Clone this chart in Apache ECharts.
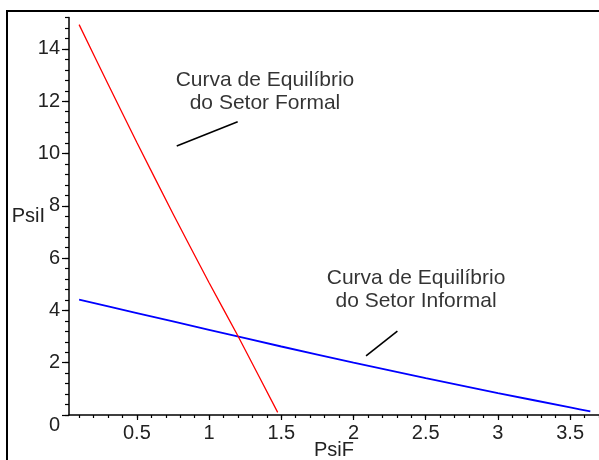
<!DOCTYPE html>
<html>
<head>
<meta charset="utf-8">
<script src="https://cdn.jsdelivr.net/npm/echarts@6/dist/echarts.min.js"></script>
<style>
html,body{margin:0;padding:0;background:#fff;}
#c{width:599px;height:460px;}
</style>
</head>
<body>
<div id="c"></div>
<script>
// ---- data ----
const formalX = [0.1, 0.3, 0.5, 0.75, 1.0, 1.2, 1.475];
const formalY = [14.93, 12.66, 10.42, 7.7, 5.06, 3.02, 0.1];
const informalX = [0.1, 0.5, 1.0, 1.5, 2.0, 2.5, 3.0, 3.5, 3.64];
const informalY = [4.41, 3.90, 3.26, 2.62, 2.00, 1.41, 0.84, 0.29, 0.14];

const xTickLabels = [0.5, 1, 1.5, 2, 2.5, 3, 3.5];
const yTickLabels = [0, 2, 4, 6, 8, 10, 12, 14];
const xAxisName = 'PsiF';
const yAxisName = 'PsiI';

const annotationText = ['Curva de Equilíbrio\ndo Setor Formal', 'Curva de Equilíbrio\ndo Setor Informal'];
const annotationX = [1.387, 2.433];
const annotationY = [12.36, 4.79];
const pointerFrom = [[0.776, 10.29], [2.087, 2.257]];
const pointerTo = [[1.198, 11.22], [2.304, 3.21]];

// minor tick positions
const xMinorTicks = [];
for (let i = 1; i <= 37; i++) xMinorTicks.push(+(i * 0.1).toFixed(2));
const yMinorTicks = [];
for (let i = 0; i <= 38; i++) yMinorTicks.push(+(i * 0.4).toFixed(2));

const FONT = "'Liberation Sans', Arial, sans-serif";

const chart = echarts.init(document.getElementById('c'), null, {renderer: 'canvas'});

chart.setOption({
  animation: false,
  backgroundColor: '#fff',
  grid: {left: 69, top: 17.6, right: 0, bottom: 45, containLabel: false, outerBoundsMode: 'none'},
  graphic: [{
    type: 'rect',
    shape: {x: 7, y: 11, width: 700, height: 600},
    style: {fill: 'none', stroke: '#000', lineWidth: 2},
    z: 100
  }],
  xAxis: [{
    type: 'value', min: 0.03, max: 3.7,
    position: 'bottom',
    name: xAxisName, nameLocation: 'middle', nameGap: 25, nameMoveOverlap: false,
    nameTextStyle: {fontFamily: FONT, fontSize: 20, color: '#222', verticalAlign: 'top'},
    axisLine: {show: true, onZero: false, lineStyle: {color: '#000', width: 1.5}},
    axisTick: {show: true, customValues: xTickLabels, length: 5, inside: false, lineStyle: {color: '#000', width: 1.2}},
    axisLabel: {show: true, customValues: xTickLabels, margin: 8, fontFamily: FONT, fontSize: 20, color: '#222'},
    splitLine: {show: false}
  }, {
    type: 'value', min: 0.03, max: 3.7,
    position: 'bottom',
    axisLine: {show: false, onZero: false},
    axisTick: {show: true, customValues: xMinorTicks, length: 3, lineStyle: {color: '#000', width: 1.2}},
    axisLabel: {show: false},
    splitLine: {show: false}
  }],
  yAxis: [{
    type: 'value', min: 0, max: 15.2,
    position: 'left',
    name: yAxisName, nameLocation: 'middle', nameGap: 24, nameRotate: 0, nameMoveOverlap: false,
    nameTextStyle: {fontFamily: FONT, fontSize: 20, color: '#222', align: 'right', verticalAlign: 'middle'},
    axisLine: {show: true, onZero: false, lineStyle: {color: '#000', width: 1.5}},
    axisTick: {show: true, customValues: yTickLabels, length: 7, lineStyle: {color: '#000', width: 1.2}},
    axisLabel: {
      show: true, customValues: yTickLabels, margin: 9, fontFamily: FONT, fontSize: 20, color: '#222',
      formatter: function (v) { return v === 0 ? '{z|0}' : String(v); },
      rich: {z: {fontFamily: FONT, fontSize: 20, color: '#222', padding: [20, 0, 0, 0]}}
    },
    splitLine: {show: false}
  }, {
    type: 'value', min: 0, max: 15.2,
    position: 'left',
    axisLine: {show: false, onZero: false},
    axisTick: {show: true, customValues: yMinorTicks, length: 4, lineStyle: {color: '#000', width: 1.2}},
    axisLabel: {show: false},
    splitLine: {show: false}
  }],
  series: [{
    type: 'line',
    name: 'Formal',
    data: formalX.map((x, i) => [x, formalY[i]]),
    showSymbol: false, symbol: 'none',
    smooth: 0.2,
    lineStyle: {color: '#ff0000', width: 1.3},
    z: 3
  }, {
    type: 'line',
    name: 'Informal',
    data: informalX.map((x, i) => [x, informalY[i]]),
    showSymbol: false, symbol: 'none',
    smooth: 0.2,
    lineStyle: {color: '#0000ff', width: 1.8},
    z: 2
  }, {
    type: 'scatter',
    name: 'annotations',
    data: annotationX.map((x, i) => [x, annotationY[i]]),
    symbolSize: 1,
    itemStyle: {color: 'rgba(0,0,0,0)'},
    label: {
      show: true, position: 'inside',
      formatter: function (p) { return annotationText[p.dataIndex]; },
      fontFamily: FONT, fontSize: 21, lineHeight: 23.5, color: '#000', align: 'center', verticalAlign: 'middle'
    },
    emphasis: {disabled: true},
    markLine: {
      silent: true, symbol: 'none', animation: false,
      label: {show: false},
      lineStyle: {color: '#000', width: 1.6, type: 'solid'},
      data: pointerFrom.map((p, i) => [{coord: p}, {coord: pointerTo[i]}])
    },
    z: 4
  }]
});
</script>
</body>
</html>
